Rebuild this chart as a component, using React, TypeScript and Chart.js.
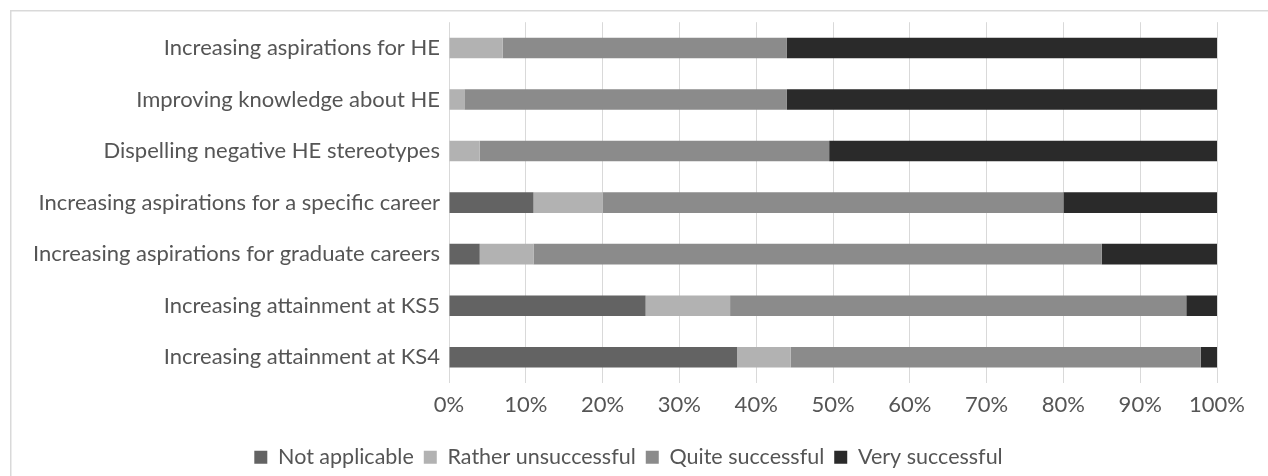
import React, { useEffect, useRef } from "react";
import { Chart, registerables } from "chart.js";

Chart.register(...registerables);

const categories = [
  "Increasing aspirations for HE",
  "Improving knowledge about HE",
  "Dispelling negative HE stereotypes",
  "Increasing aspirations for a specific career",
  "Increasing aspirations for graduate careers",
  "Increasing attainment at KS5",
  "Increasing attainment at KS4",
];

const notApplicable = [0, 0, 0, 11, 4, 25.6, 37.5];
const ratherUnsuccessful = [7, 2, 4, 9, 7, 11, 7];
const quiteSuccessful = [37, 42, 45.5, 60, 74, 59.4, 53.4];
const verySuccessful = [56, 56, 50.5, 20, 15, 4, 2.1];

const seriesNames = ["Not applicable", "Rather unsuccessful", "Quite successful", "Very successful"];
const seriesColors = ["#636363", "#b2b2b2", "#8b8b8b", "#2a2a2a"];

const xTicks = [0, 10, 20, 30, 40, 50, 60, 70, 80, 90, 100];

const FONT = "Lato";
const TEXT = "#555555";
const W = 1268;
const H = 478;
const LEGEND_SHIFT = 20;

const framePlugin = {
  id: "frame",
  beforeDraw(chart: any) {
    const ctx = chart.ctx;
    ctx.save();
    ctx.fillStyle = "#ffffff";
    ctx.fillRect(0, 0, chart.width, chart.height);
    ctx.strokeStyle = "#d9d9d9";
    ctx.lineWidth = 1.5;
    ctx.beginPath();
    ctx.moveTo(10.75, chart.height + 10);
    ctx.lineTo(10.75, 10.75);
    ctx.lineTo(chart.width + 10, 10.75);
    ctx.stroke();
    ctx.restore();
  },
  afterLayout(chart: any) {
    if (chart.legend) {
      chart.legend.left += LEGEND_SHIFT;
      chart.legend.right += LEGEND_SHIFT;
    }
  },
};

export default function App() {
  const ref = useRef<HTMLCanvasElement>(null);
  useEffect(() => {
    if (!ref.current) return;
    const data = [notApplicable, ratherUnsuccessful, quiteSuccessful, verySuccessful];
    const chart = new Chart(ref.current, {
      type: "bar",
      data: {
        labels: categories,
        datasets: data.map((d, i) => ({
          label: seriesNames[i],
          data: d,
          backgroundColor: seriesColors[i],
          borderWidth: 0,
          barPercentage: 0.4,
          categoryPercentage: 1,
        })),
      },
      options: {
        indexAxis: "y",
        responsive: false,
        animation: false,
        layout: { padding: { top: 19, right: 51, left: 0, bottom: 0 } },
        plugins: {
          tooltip: { enabled: false },
          legend: {
            position: "bottom",
            labels: {
              color: TEXT,
              font: { family: FONT, size: 21.5 },
              boxWidth: 13,
              boxHeight: 13,
              padding: 10,
            },
          },
        },
        scales: {
          x: {
            stacked: true,
            min: 0,
            max: 100,
            afterBuildTicks: (s: any) => {
              s.ticks = xTicks.map((v) => ({ value: v }));
            },
            afterFit: (s: any) => {
              s.height = 53.5;
            },
            ticks: {
              color: TEXT,
              font: { family: FONT, size: 22 },
              padding: 9,
              maxRotation: 0,
              callback: (v: any) => v + "%",
            },
            grid: { color: "#d9d9d9", lineWidth: 1, drawTicks: false },
            border: { display: false },
          },
          y: {
            stacked: true,
            afterFit: (s: any) => {
              s.width = 449;
            },
            ticks: {
              color: TEXT,
              font: { family: FONT, size: 22 },
              padding: 9,
            },
            grid: { display: false, drawTicks: false },
            border: { display: false },
          },
        },
      },
      plugins: [framePlugin],
    });
    return () => chart.destroy();
  }, []);
  return (
    <div style={{ position: "fixed", left: 0, top: 0, width: W, height: 476, overflow: "hidden", background: "#fff" }}>
      <canvas ref={ref} width={W} height={H} style={{ display: "block", width: W, height: H }} />
    </div>
  );
}
